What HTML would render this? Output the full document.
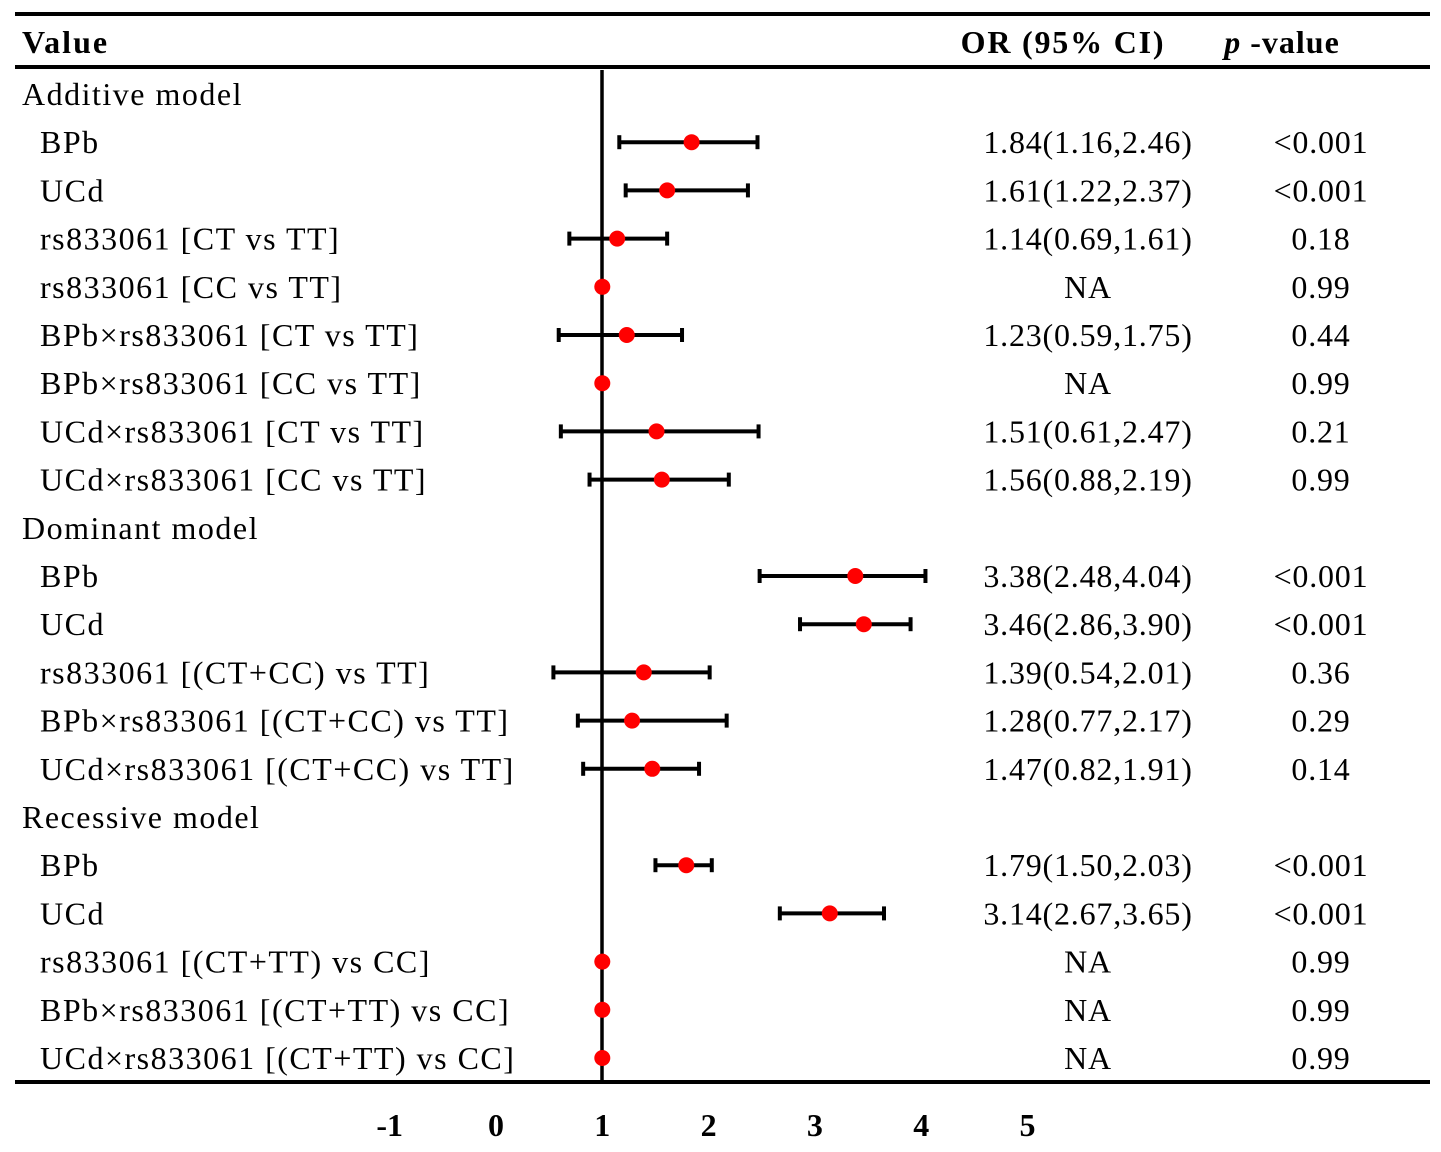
<!DOCTYPE html>
<html><head><meta charset="utf-8"><style>
html,body{margin:0;padding:0;background:#fff;}
svg text{font-family:"Liberation Serif",serif;font-size:32px;fill:#000;}
</style></head><body>
<svg id="chart" width="1441" height="1147" viewBox="0 0 1441 1147" xmlns="http://www.w3.org/2000/svg">
<line x1="15" y1="14" x2="1430" y2="14" stroke="#000" stroke-width="4"/>
<line x1="15" y1="67" x2="1430" y2="67" stroke="#000" stroke-width="4"/>
<line x1="15" y1="1082" x2="1430" y2="1082" stroke="#000" stroke-width="4"/>
<text x="22" y="53" font-weight="bold" letter-spacing="2">Value</text>
<text x="1063" y="53" text-anchor="middle" font-weight="bold" letter-spacing="1.8">OR (95% CI)</text>
<text x="1282" y="53" text-anchor="middle" font-weight="bold" letter-spacing="1"><tspan font-style="italic">p</tspan> -value</text>
<line x1="602" y1="70" x2="602" y2="1082" stroke="#000" stroke-width="3.5"/>
<g id="rows"></g>
<g id="axis"></g>
</svg>
<script>
const labels=["Additive model","BPb","UCd","rs833061 [CT vs TT]","rs833061 [CC vs TT]","BPb×rs833061 [CT vs TT]","BPb×rs833061 [CC vs TT]","UCd×rs833061 [CT vs TT]","UCd×rs833061 [CC vs TT]","Dominant model","BPb","UCd","rs833061 [(CT+CC) vs TT]","BPb×rs833061 [(CT+CC) vs TT]","UCd×rs833061 [(CT+CC) vs TT]","Recessive model","BPb","UCd","rs833061 [(CT+TT) vs CC]","BPb×rs833061 [(CT+TT) vs CC]","UCd×rs833061 [(CT+TT) vs CC]"];
const isHeader=[1,0,0,0,0,0,0,0,0,1,0,0,0,0,0,1,0,0,0,0,0];
const orVals=[null,1.84,1.61,1.14,1,1.23,1,1.51,1.56,null,3.38,3.46,1.39,1.28,1.47,null,1.79,3.14,1,1,1];
const ciLow=[null,1.16,1.22,0.69,null,0.59,null,0.61,0.88,null,2.48,2.86,0.54,0.77,0.82,null,1.50,2.67,null,null,null];
const ciHigh=[null,2.46,2.37,1.61,null,1.75,null,2.47,2.19,null,4.04,3.90,2.01,2.17,1.91,null,2.03,3.65,null,null,null];
const orText=["","1.84(1.16,2.46)","1.61(1.22,2.37)","1.14(0.69,1.61)","NA","1.23(0.59,1.75)","NA","1.51(0.61,2.47)","1.56(0.88,2.19)","","3.38(2.48,4.04)","3.46(2.86,3.90)","1.39(0.54,2.01)","1.28(0.77,2.17)","1.47(0.82,1.91)","","1.79(1.50,2.03)","3.14(2.67,3.65)","NA","NA","NA"];
const pText=["","<0.001","<0.001","0.18","0.99","0.44","0.99","0.21","0.99","","<0.001","<0.001","0.36","0.29","0.14","","<0.001","<0.001","0.99","0.99","0.99"];
const ticks=[-1,0,1,2,3,4,5];
const NS="http://www.w3.org/2000/svg";
const xs=v=>496+106.3*v;
const ys=i=>94+i*48.2;
function mk(tag,attrs,parent){const e=document.createElementNS(NS,tag);for(const k in attrs)e.setAttribute(k,attrs[k]);parent.appendChild(e);return e;}
const rows=document.getElementById('rows');
labels.forEach((lab,i)=>{
  const y=ys(i);
  const t=mk('text',{x:isHeader[i]?22:40,y:y+11,'letter-spacing':1.5},rows);
  t.textContent=lab;
  
  
  if(isHeader[i])return;
  if(ciLow[i]!==null){
    const g=mk('g',{stroke:'#000','stroke-width':4},rows);
    
    
    mk('line',{x1:xs(ciLow[i]),y1:y,x2:xs(ciHigh[i]),y2:y},g);
    mk('line',{x1:xs(ciLow[i]),y1:y-7,x2:xs(ciLow[i]),y2:y+7},g);
    mk('line',{x1:xs(ciHigh[i]),y1:y-7,x2:xs(ciHigh[i]),y2:y+7},g);
  }
  const c=mk('circle',{cx:xs(orVals[i]),cy:y,r:8,fill:'#f00'},rows);
  
  
  const o=mk('text',{x:1088,y:y+11,'text-anchor':'middle','letter-spacing':0.8},rows);
  o.textContent=orText[i];
  
  
  const p=mk('text',{x:1321,y:y+11,'text-anchor':'middle','letter-spacing':0.8},rows);
  p.textContent=pText[i];
  
  
});
const ax=document.getElementById('axis');
ticks.forEach(v=>{
  const t=mk('text',{x:xs(v),y:1136,'text-anchor':'middle','font-weight':'bold'},ax);
  t.textContent=String(v);
  
  
});
</script>
</body></html>
